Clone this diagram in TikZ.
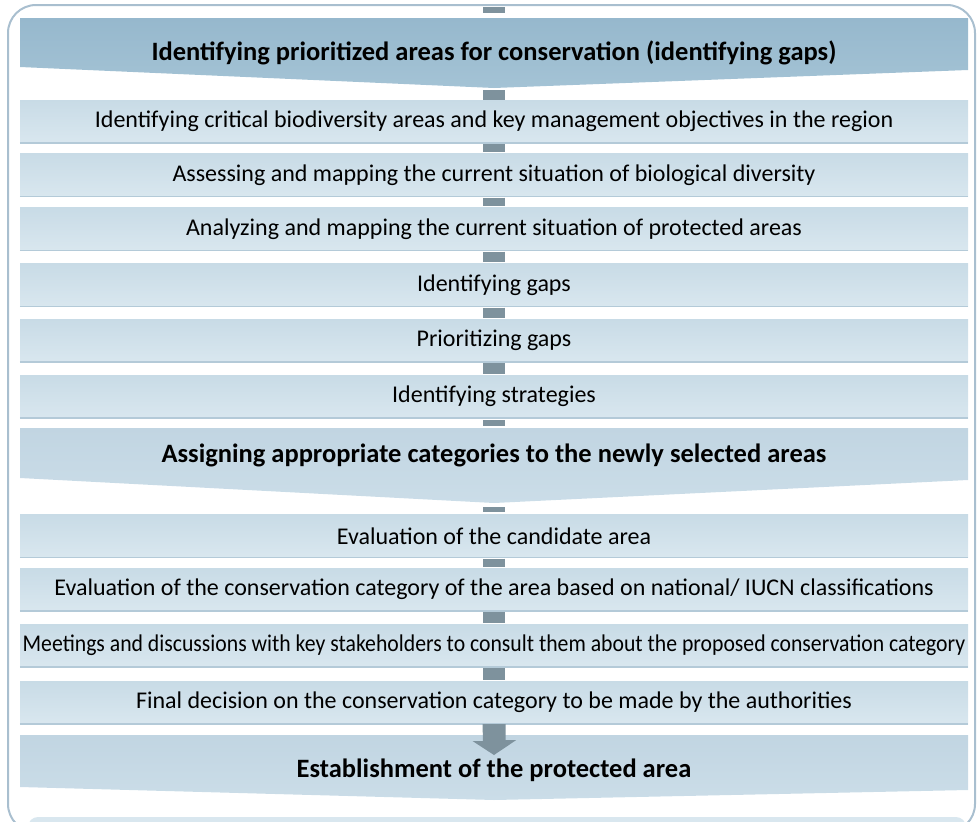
\documentclass[tikz,border=0pt]{standalone}
\usepackage{fontspec}
\setmainfont{Carlito}
\usetikzlibrary{positioning,calc}
\pgfdeclarelayer{bg}
\pgfsetlayers{bg,main}
\definecolor{framec}{HTML}{A9BFCF}
\definecolor{headdark}{HTML}{96B8CD}
\definecolor{headdarkb}{HTML}{A4C3D5}
\definecolor{headlight}{HTML}{C1D5E2}
\definecolor{headlightb}{HTML}{CBDDE8}
\definecolor{boxtop}{HTML}{C8DBE6}
\definecolor{boxbot}{HTML}{D9E7EF}
\definecolor{linkc}{HTML}{7E929D}
\definecolor{edgec}{HTML}{B4CAD8}
\begin{document}
\begin{tikzpicture}[x=1pt,y=-1pt,
	stepbox/.style={rectangle,inner sep=0pt,top color=boxtop,bottom color=boxbot,
		minimum width=948pt,minimum height=43pt,font=\fontsize{24}{28}\selectfont},
	headtext/.style={inner sep=0pt,font=\fontsize{26.5}{31}\selectfont\bfseries},
	link/.style={draw=linkc,line width=22pt},
	boxedge/.style={draw=edgec,line width=1.5pt}]

	\useasboundingbox (0,0) rectangle (980,822);

	% headings (chevrons)
	\coordinate (top) at (494,6);
	\coordinate (h1top) at (494,18);
	\coordinate (h1tip) at (494,88);
	\coordinate (h2top) at (494,428);
	\coordinate (h2tip) at (494,503);
	\coordinate (h3top) at (494,735);
	\node[headtext] (h1) at (494,53) {Identifying prioritized areas for conservation (identifying gaps)};
	\node[headtext] (h2) at (494,455) {Assigning appropriate categories to the newly selected areas};
	\node[headtext] (h3) at (494,770) {Establishment of the protected area};

	% steps
	\node[stepbox] (b1) at (494,121.5) {Identifying critical biodiversity areas and key management objectives in the region};
	\node[stepbox] (b2) at (494,175) {Assessing and mapping the current situation of biological diversity};
	\node[stepbox] (b3) at (494,229) {Analyzing and mapping the current situation of protected areas};
	\node[stepbox] (b4) at (494,285) {Identifying gaps};
	\node[stepbox] (b5) at (494,340.5) {Prioritizing gaps};
	\node[stepbox] (b6) at (494,396.5) {Identifying strategies};
	\node[stepbox] (b7) at (494,536) {Evaluation of the candidate area};
	\node[stepbox] (b8) at (494,589.5) {Evaluation of the conservation category of the area based on national/ IUCN classifications};
	\node[stepbox] (b9) at (494,645.5) {\scalebox{0.905}[1]{Meetings and discussions with key stakeholders to consult them about the proposed conservation category}};
	\node[stepbox] (b10) at (494,702.5) {Final decision on the conservation category to be made by the authorities};

	\foreach \n in {b1,b2,b3,b4,b5,b6,b7,b8,b9,b10}
		\draw[boxedge] (\n.south west) -- (\n.south east);

	\begin{pgfonlayer}{bg}
		\draw[framec,line width=2pt,rounded corners=28pt] (8,5) rectangle (975,832);
		\fill[boxbot,rounded corners=10pt] (28,817) rectangle (966,850);
		\shade[top color=headdark,bottom color=headdarkb] (20,18) -- (968,18) -- (968,70) -- (h1tip) -- (20,67) -- cycle;
		\shade[top color=headlight,bottom color=headlightb] (20,428) -- (968,428) -- (968,480) -- (h2tip) -- (20,478) -- cycle;
		\shade[top color=headlight,bottom color=headlightb] (20,735) -- (968,735) -- (968,790) -- (494,800) -- (20,787) -- cycle;
	\end{pgfonlayer}

	% connectors
	\draw[link,shorten <=1pt,shorten >=5pt] (top) -- (h1top);
	\draw[link,shorten <=2pt,shorten >=0pt] (h1tip) -- (b1);
	\foreach \a/\b in {b1/b2,b2/b3,b3/b4,b4/b5,b5/b6,b7/b8,b8/b9,b9/b10}
		\draw[link,shorten <=1pt,shorten >=1pt] (\a) -- (\b);
	\draw[link,shorten <=2pt,shorten >=2pt] (b6) -- (h2top);
	\draw[link,shorten <=4pt,shorten >=2pt] (h2tip) -- (b7);
	\fill[linkc] (b10.south) ++(-11.5,0) -- ++(23,0) -- ++(0,16) -- ++(10.5,0)
		-- (494,755) -- ++(-21.5,-14) -- ++(10.5,0) -- cycle;

\end{tikzpicture}
\end{document}
